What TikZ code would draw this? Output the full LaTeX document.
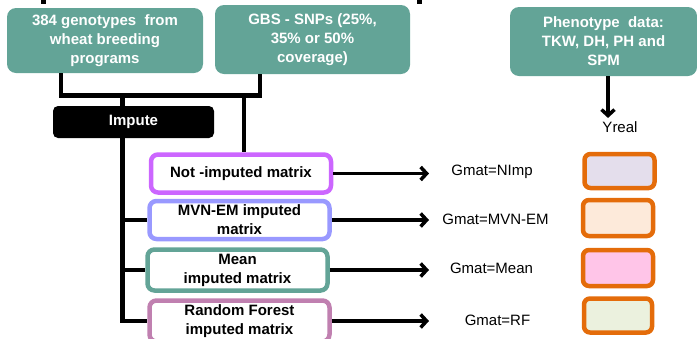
\documentclass[tikz,border=0pt]{standalone}
\usepackage{fontspec}
\setmainfont{Liberation Sans}
\usetikzlibrary{arrows.meta}
\definecolor{tealc}{RGB}{99,164,151}
\definecolor{violetc}{RGB}{204,102,255}
\definecolor{bluec}{RGB}{153,153,255}
\definecolor{mauvec}{RGB}{192,128,176}
\definecolor{orangec}{RGB}{228,108,10}
\definecolor{lavfill}{RGB}{228,222,236}
\definecolor{peachfill}{RGB}{253,234,218}
\definecolor{pinkfill}{RGB}{255,197,232}
\definecolor{greenfill}{RGB}{235,241,222}
\newcommand\slidefont{\fontsize{15}{19}\selectfont}
\tikzset{
  databox/.style={rectangle,rounded corners=9pt,fill=tealc,text=white,
    font=\slidefont\bfseries,align=center,inner sep=0pt},
  matbox/.style={rectangle,rounded corners=7pt,draw,line width=4.5pt,fill=white,
    font=\slidefont\bfseries,align=center,inner sep=0pt,
    minimum width=180pt,minimum height=38pt},
  ybox/.style={rectangle,rounded corners=6pt,draw=orangec,line width=4.5pt,
    minimum width=70pt,minimum height=34pt},
  conn/.style={line width=4.5pt},
  arr/.style={line width=3.5pt,-{Straight Barb[length=6pt,width=13pt]}}
}
\begin{document}
\begin{tikzpicture}[x=1pt,y=-1pt]
\useasboundingbox (0,0) rectangle (697,338);
% input data
\path[draw] (105,40.5) node[databox,minimum width=196pt,minimum height=65pt] (geno)
  {384 genotypes\ \ from\\wheat breeding\\programs};
\path[draw] (312.5,39.5) node[databox,minimum width=195pt,minimum height=69pt] (gbs)
  {GBS - SNPs (25\%,\\35\% or 50\%\\coverage)};
\path[draw] (603.5,41.5) node[databox,minimum width=187pt,minimum height=69pt] (pheno)
  {Phenotype\ \ data:\\TKW, DH, PH and\\SPM};
\path[draw] (133.5,122) node[rectangle,rounded corners=5pt,fill=black,text=white,
  font=\slidefont\bfseries,minimum width=161pt,minimum height=32pt] (impute) {Impute};
% matrices
\path[draw] (241,173.5) node[matbox,draw=violetc] (nimp) {Not -imputed matrix};
\path[draw] (239.5,220) node[matbox,draw=bluec] (mvn) {MVN-EM imputed\\matrix};
\path[draw] (237.5,270) node[matbox,draw=tealc,minimum height=41pt] (mean) {Mean\\imputed matrix};
\path[draw] (239.5,321) node[matbox,draw=mauvec,minimum height=41pt] (rf) {Random Forest\\imputed matrix};
% labels
\path[draw] (492,172) node[font=\slidefont] (gnimp) {Gmat=NImp};
\path[draw] (495.5,219) node[font=\slidefont] (gmvn) {Gmat=MVN-EM};
\path[draw] (491.5,268) node[font=\slidefont] (gmean) {Gmat=Mean};
\path[draw] (497.5,320) node[font=\slidefont] (grf) {Gmat=RF};
\path[draw] (620,127) node[font=\slidefont] (yreal) {Yreal};
% phenotype boxes
\path[draw] (619.5,171) node[ybox,fill=lavfill] (ynimp) {};
\path[draw] (618,218) node[ybox,fill=peachfill,minimum height=36pt] (ymvn) {};
\path[draw] (618,268) node[ybox,fill=pinkfill,minimum height=36pt] (ymean) {};
\path[draw] (618,315.5) node[ybox,fill=greenfill,minimum width=68pt] (yrf) {};
% connectors
\coordinate (jl) at (61,95.5);
\coordinate (jr) at (260,95.5);
\coordinate (trunk) at (122.5,95.5);
\coordinate (tap) at (244,95.5);
\coordinate (tip) at (429,0);
\draw[conn] (geno.south -| jl) |- (jr) -- (gbs.south -| jr);
\draw[conn] (trunk) -- (trunk |- impute.north);
\draw[conn] (tap) -- (tap |- nimp.north);
\draw[conn] (trunk |- impute.south) |- (rf.west);
\draw[conn] (trunk |- mvn.west) -- (mvn.west);
\draw[conn] (trunk |- mean.west) -- (mean.west);
\draw[conn] (43.5,0) -- (43.5,4);
\draw[conn] (419.5,0) -- (419.5,4);
\draw[arr] (nimp.east) -- (nimp.east -| tip);
\draw[arr] (mvn.east) -- (mvn.east -| tip);
\draw[arr] (mean.east) -- (mean.east -| tip);
\draw[arr] (rf.east) -- (rf.east -| tip);
\draw[arr] ([xshift=4.5pt]pheno.south) -- ([xshift=4.5pt]pheno.south |- yreal.north);
\end{tikzpicture}
\end{document}
